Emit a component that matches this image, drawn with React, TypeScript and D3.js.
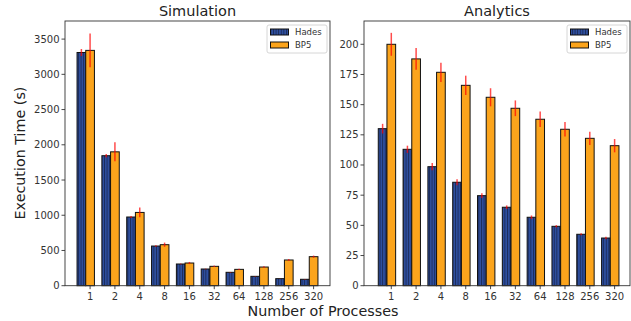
import React from 'react';
import * as d3 from 'd3';

// process counts on the x axis
const procs = ['1', '2', '4', '8', '16', '32', '64', '128', '256', '320'];

// Simulation panel
const simHades = [3310, 1845, 975, 563, 308, 237, 190, 133, 100, 91];
const simHadesErr = [50, 25, 15, 10, 6, 5, 5, 4, 3, 3];
const simBp5 = [3340, 1900, 1040, 582, 322, 275, 232, 265, 365, 412];
const simBp5Err = [240, 135, 70, 30, 15, 10, 10, 10, 15, 15];
const simTicks = [0, 500, 1000, 1500, 2000, 2500, 3000, 3500];

// Analytics panel
const anaHades = [130.1, 113, 98.6, 85.7, 74.6, 65, 56.7, 49.2, 42.6, 39.5];
const anaHadesErr = [4, 3, 3, 2.5, 2, 1.5, 1.5, 1, 0.8, 1];
const anaBp5 = [200, 187.9, 176.8, 166, 156.1, 147, 137.9, 129.6, 122.1, 116];
const anaBp5Err = [9.5, 9, 8, 8, 7.5, 6.5, 6.5, 6, 5.5, 5.5];
const anaTicks = [0, 25, 50, 75, 100, 125, 150, 175, 200];

const BLUE = '#2e4f9f';
const ORANGE = '#fba41c';
const AXIS = '#333';
const FONT = 'DejaVu Sans, sans-serif';

type PanelProps = {
  title: string;
  left: number;
  right: number;
  xdom: [number, number];
  ymax: number;
  hades: number[];
  hadesErr: number[];
  bp5: number[];
  bp5Err: number[];
  ticks: number[];
};

const top = 21;
const bottom = 285.7;
const bw = 0.35;

function Panel(p: PanelProps) {
  const x = d3.scaleLinear().domain(p.xdom).range([p.left, p.right]);
  const y = d3.scaleLinear().domain([0, p.ymax]).range([bottom, top]);
  const w = x(bw) - x(0);
  const lx = p.right - 63;
  return (
    <g>
      <text x={(p.left + p.right) / 2} y={16} textAnchor="middle" fontSize={14.5} fill="#222">{p.title}</text>
      {p.hades.map((v, i) => (
        <g key={'h' + i}>
          <rect x={x(i - bw) - w / 2} y={y(v)} width={w} height={bottom - y(v)} fill="url(#hatch)" stroke="#111" strokeWidth={1} />
          <line x1={x(i - bw)} x2={x(i - bw)} y1={y(v - p.hadesErr[i])} y2={y(v + p.hadesErr[i])} stroke="red" strokeOpacity={0.7} strokeWidth={1.5} />
        </g>
      ))}
      {p.bp5.map((v, i) => (
        <g key={'b' + i}>
          <rect x={x(i) - w / 2} y={y(v)} width={w} height={bottom - y(v)} fill={ORANGE} stroke="#111" strokeWidth={1} />
          <line x1={x(i)} x2={x(i)} y1={y(v - p.bp5Err[i])} y2={y(v + p.bp5Err[i])} stroke="red" strokeOpacity={0.7} strokeWidth={1.5} />
        </g>
      ))}
      <rect x={p.left} y={top} width={p.right - p.left} height={bottom - top} fill="none" stroke={AXIS} strokeWidth={0.9} />
      {p.ticks.map(t => (
        <g key={'y' + t}>
          <line x1={p.left - 3.5} x2={p.left} y1={y(t)} y2={y(t)} stroke={AXIS} strokeWidth={0.9} />
          <text x={p.left - 5.5} y={y(t) + 3.5} textAnchor="end" fontSize={10} fill="#333">{t}</text>
        </g>
      ))}
      {procs.map((c, i) => (
        <g key={'x' + c}>
          <line x1={x(i)} x2={x(i)} y1={bottom} y2={bottom + 3.5} stroke={AXIS} strokeWidth={0.9} />
          <text x={x(i)} y={bottom + 14} textAnchor="middle" fontSize={10} fill="#333">{c}</text>
        </g>
      ))}
      <g>
        <rect x={lx} y={25} width={60} height={28} rx={2} fill="white" fillOpacity={0.85} stroke="#ccc" strokeWidth={0.8} />
        <rect x={lx + 3.5} y={29} width={18} height={6} fill="url(#hatch)" stroke="#111" strokeWidth={1} />
        <text x={lx + 28} y={35} fontSize={8.5} fill="#333">Hades</text>
        <rect x={lx + 3.5} y={42} width={18} height={6} fill={ORANGE} stroke="#111" strokeWidth={1} />
        <text x={lx + 28} y={48} fontSize={8.5} fill="#333">BP5</text>
      </g>
    </g>
  );
}

export default function App() {
  return (
    <svg width={631} height={321} style={{ position: 'absolute', left: 0, top: 0, fontFamily: FONT }}>
      <defs>
        <pattern id="hatch" patternUnits="userSpaceOnUse" width={2.6} height={10}>
          <rect width={2.6} height={10} fill={BLUE} />
          <line x1={0.5} x2={0.5} y1={0} y2={10} stroke="#16224a" strokeWidth={0.8} />
        </pattern>
      </defs>
      <rect width={631} height={321} fill="white" />
      <Panel title="Simulation" left={65} right={330} xdom={[-1.01, 9.66]} ymax={3757}
        hades={simHades} hadesErr={simHadesErr} bp5={simBp5} bp5Err={simBp5Err} ticks={simTicks} />
      <Panel title="Analytics" left={364} right={630} xdom={[-1.1, 9.62]} ymax={219.3}
        hades={anaHades} hadesErr={anaHadesErr} bp5={anaBp5} bp5Err={anaBp5Err} ticks={anaTicks} />
      <text transform="translate(25,153) rotate(-90)" textAnchor="middle" fontSize={14.3} fill="#222">Execution Time (s)</text>
      <text x={323} y={316} textAnchor="middle" fontSize={14.3} fill="#222">Number of Processes</text>
    </svg>
  );
}
